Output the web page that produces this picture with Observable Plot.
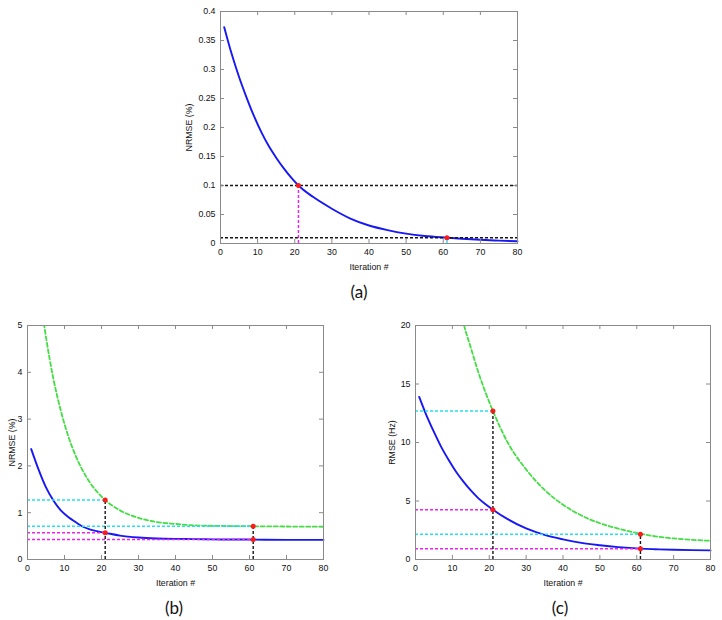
<!DOCTYPE html>
<html><head><meta charset="utf-8">
<script src="https://cdn.jsdelivr.net/npm/d3@7"></script>
<script src="https://cdn.jsdelivr.net/npm/@observablehq/plot@0.6"></script>
<style>
html,body{margin:0;padding:0;background:#fff;}
#wrap{position:relative;width:722px;height:620px;overflow:hidden;background:#fff;}
.panel{position:absolute;}
.cap{position:absolute;font-family:Lato,"Open Sans",sans-serif;font-size:17px;color:#111;transform:translate(-50%,-50%);white-space:nowrap;}
</style></head><body><div id="wrap"></div>
<script>
// ---------- data ----------
const xTicks = [0, 10, 20, 30, 40, 50, 60, 70, 80];
const aYTicks = [0, 0.05, 0.1, 0.15, 0.2, 0.25, 0.3, 0.35, 0.4];
const bYTicks = [0, 1, 2, 3, 4, 5];
const cYTicks = [0, 5, 10, 15, 20];

// (a) NRMSE (%) vs iteration
const aIter  = [1, 3, 5, 7, 9, 11, 13, 15, 17, 19, 21, 25, 30, 35, 40, 45, 50, 55, 61, 65, 70, 75, 80];
const aNRMSE = [0.373, 0.327, 0.287, 0.252, 0.220, 0.192, 0.168, 0.148, 0.130, 0.114, 0.100, 0.080, 0.060, 0.043, 0.031, 0.023, 0.017, 0.013, 0.010, 0.0082, 0.0064, 0.0050, 0.0038];

// (b) NRMSE (%) vs iteration
const bIterGreen = [3, 5, 7, 9, 11, 13, 15, 17, 19, 21, 25, 30, 35, 40, 45, 50, 55, 61, 70, 80];
const bGreen     = [5.87, 4.75, 3.86, 3.18, 2.64, 2.22, 1.89, 1.63, 1.43, 1.27, 1.05, 0.89, 0.80, 0.76, 0.73, 0.72, 0.715, 0.71, 0.705, 0.70];
const bIterBlue  = [1, 3, 5, 7, 9, 11, 13, 15, 17, 19, 21, 25, 30, 35, 40, 45, 50, 55, 61, 70, 80];
const bBlue      = [2.36, 1.92, 1.54, 1.26, 1.05, 0.91, 0.80, 0.70, 0.64, 0.60, 0.57, 0.51, 0.47, 0.45, 0.44, 0.435, 0.43, 0.428, 0.425, 0.42, 0.42];

// (c) RMSE (Hz) vs iteration
const cIterGreen = [9, 11, 13, 15, 17, 19, 21, 25, 30, 35, 40, 45, 50, 55, 61, 65, 70, 75, 80];
const cGreen     = [26.0, 23.0, 20.2, 18.1, 16.05, 14.26, 12.7, 10.0, 7.7, 5.95, 4.68, 3.76, 3.1, 2.64, 2.2, 1.98, 1.8, 1.68, 1.6];
const cIterBlue  = [1, 3, 5, 7, 9, 11, 13, 15, 17, 19, 21, 25, 30, 35, 40, 45, 50, 55, 61, 65, 70, 75, 80];
const cBlue      = [13.9, 12.3, 10.9, 9.6, 8.5, 7.5, 6.65, 5.9, 5.25, 4.72, 4.26, 3.45, 2.65, 2.1, 1.72, 1.42, 1.22, 1.06, 0.93, 0.88, 0.83, 0.80, 0.78];

// marked iterations and the values reached there
const checkIters  = [21, 61];
const aThresholds = [0.1, 0.01];
const bGreenAt = [1.27, 0.71];
const bBlueAt  = [0.57, 0.43];
const cGreenAt = [12.7, 2.15];
const cBlueAt  = [4.26, 0.92];

// ---------- styles ----------
const BLUE = "#1818f5", GREEN = "#44dd44", CYAN = "#22e2f2", MAGENTA = "#ee22ee", RED = "#ff1a1a", GRAY = "#8a8a8a", BLACK = "#151515";
const FONT = "'Liberation Sans', Arial, Helvetica, sans-serif";

const pts = (xs, ys) => xs.map((x, i) => ({x, y: ys[i]}));

function makePanel(cfg) {
  const {W, H, mL, mR, mT, mB, yDomain, yTicks, yLabel, yLabelOffset, marks} = cfg;
  const pw = W - mL - mR, ph = H - mT - mB, t = 4;
  return Plot.plot({
    width: W, height: H, marginLeft: mL, marginRight: mR, marginTop: mT, marginBottom: mB,
    style: {fontFamily: FONT, fontSize: "8.8px", color: "#111", background: "transparent", overflow: "visible"},
    x: {domain: [0, 80], ticks: xTicks, tickSize: 0, tickPadding: 5, tickFormat: d => String(d),
        label: "Iteration #", labelAnchor: "center", labelOffset: 26.5, labelArrow: false},
    y: {domain: yDomain, ticks: yTicks, tickSize: 0, tickPadding: 5, tickFormat: d => String(d),
        label: yLabel, labelAnchor: "center", labelOffset: yLabelOffset, labelArrow: false},
    marks: [
      ...marks,
      Plot.ruleX(xTicks, {x: d => d, stroke: GRAY, insetTop: ph - t}),
      Plot.ruleX(xTicks, {x: d => d, stroke: GRAY, insetBottom: ph - t}),
      Plot.ruleY(yTicks, {y: d => d, stroke: GRAY, insetRight: pw - t}),
      Plot.ruleY(yTicks, {y: d => d, stroke: GRAY, insetLeft: pw - t}),
      Plot.frame({stroke: GRAY})
    ]
  });
}

function place(svg, left, top) {
  const d = document.createElement("div");
  d.className = "panel";
  d.style.left = left + "px";
  d.style.top = top + "px";
  d.appendChild(svg);
  document.getElementById("wrap").appendChild(d);
}
function caption(text, x, y) {
  const d = document.createElement("div");
  d.className = "cap";
  d.style.left = x + "px";
  d.style.top = y + "px";
  d.textContent = text;
  document.getElementById("wrap").appendChild(d);
}

// ---------- panel (a) ----------
const aMarked = pts(checkIters, aThresholds);
place(makePanel({
  W: 380, H: 280, mL: 60, mR: 23, mT: 11, mB: 37,
  yDomain: [0, 0.4], yTicks: aYTicks, yLabel: "NRMSE (%)", yLabelOffset: 34.5,
  marks: [
    Plot.line(pts(aIter, aNRMSE), {x: "x", y: "y", stroke: BLUE, strokeWidth: 1.9, curve: "monotone-x"}),
    Plot.ruleY(aThresholds, {y: d => d, stroke: BLACK, strokeWidth: 1.6, strokeDasharray: "3,2"}),
    Plot.ruleX([aMarked[0]], {x: "x", y1: 0, y2: "y", stroke: MAGENTA, strokeWidth: 1.5, strokeDasharray: "3,2"}),
    Plot.ruleX([aMarked[1]], {x: "x", y1: 0, y2: "y", stroke: CYAN, strokeWidth: 1.5, strokeDasharray: "3,2"}),
    Plot.dot(aMarked, {x: "x", y: "y", r: 2.5, fill: RED})
  ]
}), 160, 0);
caption("(a)", 359, 291);

// ---------- panel (b) ----------
const bG = pts(checkIters, bGreenAt), bB = pts(checkIters, bBlueAt);
place(makePanel({
  W: 350, H: 290, mL: 27, mR: 27, mT: 25, mB: 31,
  yDomain: [0, 5], yTicks: bYTicks, yLabel: "NRMSE (%)", yLabelOffset: 19,
  marks: [
    Plot.line(pts(bIterGreen, bGreen), {x: "x", y: "y", stroke: GREEN, strokeWidth: 1.8, strokeDasharray: "4,2.5", curve: "monotone-x", clip: true}),
    Plot.line(pts(bIterBlue, bBlue), {x: "x", y: "y", stroke: BLUE, strokeWidth: 1.9, curve: "monotone-x"}),
    Plot.ruleY(bG, {y: "y", x1: 0, x2: "x", stroke: CYAN, strokeWidth: 1.5, strokeDasharray: "3,2"}),
    Plot.ruleY(bB, {y: "y", x1: 0, x2: "x", stroke: MAGENTA, strokeWidth: 1.5, strokeDasharray: "3,2"}),
    Plot.ruleX(bG, {x: "x", y1: 0, y2: "y", stroke: BLACK, strokeWidth: 1.4, strokeDasharray: "3,2"}),
    Plot.dot([...bG, ...bB], {x: "x", y: "y", r: 2.5, fill: RED})
  ]
}), 0, 300);
caption("(b)", 174, 607);

// ---------- panel (c) ----------
const cG = pts(checkIters, cGreenAt), cB = pts(checkIters, cBlueAt);
place(makePanel({
  W: 362, H: 290, mL: 55, mR: 12, mT: 25, mB: 31,
  yDomain: [0, 20], yTicks: cYTicks, yLabel: "RMSE (Hz)", yLabelOffset: 26.6,
  marks: [
    Plot.line(pts(cIterGreen, cGreen), {x: "x", y: "y", stroke: GREEN, strokeWidth: 1.8, strokeDasharray: "4,2.5", curve: "monotone-x", clip: true}),
    Plot.line(pts(cIterBlue, cBlue), {x: "x", y: "y", stroke: BLUE, strokeWidth: 1.9, curve: "monotone-x"}),
    Plot.ruleY(cG, {y: "y", x1: 0, x2: "x", stroke: CYAN, strokeWidth: 1.5, strokeDasharray: "3,2"}),
    Plot.ruleY(cB, {y: "y", x1: 0, x2: "x", stroke: MAGENTA, strokeWidth: 1.5, strokeDasharray: "3,2"}),
    Plot.ruleX(cG, {x: "x", y1: 0, y2: "y", stroke: BLACK, strokeWidth: 1.4, strokeDasharray: "3,2"}),
    Plot.dot([...cG, ...cB], {x: "x", y: "y", r: 2.5, fill: RED})
  ]
}), 360, 300);
caption("(c)", 560, 607);
</script>
</body></html>
